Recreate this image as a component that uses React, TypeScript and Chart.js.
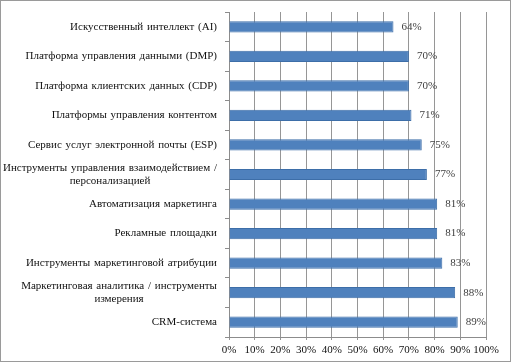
import React, { useEffect, useRef } from "react";
import { Chart, registerables } from "chart.js";

Chart.register(...registerables);

const categories: string[][] = [
  ["Искусственный интеллект (AI)"],
  ["Платформа управления данными (DMP)"],
  ["Платформа клиентских данных (CDP)"],
  ["Платформы управления контентом"],
  ["Сервис услуг электронной почты (ESP)"],
  ["Инструменты управления взаимодействием /", "персонализацией"],
  ["Автоматизация маркетинга"],
  ["Рекламные площадки"],
  ["Инструменты маркетинговой атрибуции"],
  ["Маркетинговая аналитика / инструменты", "измерения"],
  ["CRM-система"],
];

const values: number[] = [64, 70, 70, 71, 75, 77, 81, 81, 83, 88, 89];

const xTicks: number[] = [0, 10, 20, 30, 40, 50, 60, 70, 80, 90, 100];

const FONT = '"Liberation Serif", "Times New Roman", serif';

const overlayPlugin = {
  id: "overlay",
  afterDraw(chart: any) {
    const ctx = chart.ctx as CanvasRenderingContext2D;
    const yScale = chart.scales.y;
    ctx.save();
    ctx.font = `11px ${FONT}`;
    (ctx as any).wordSpacing = "1px";
    ctx.fillStyle = "#111111";
    ctx.textBaseline = "middle";
    ctx.textAlign = "center";
    const lineH = 13;
    categories.forEach((lines, i) => {
      const cy = yScale.getPixelForValue(i);
      const widths = lines.map((l) => ctx.measureText(l).width);
      const maxW = Math.max(...widths);
      const cx = yScale.right - 12 - maxW / 2;
      lines.forEach((l, j) => {
        ctx.fillText(l, cx, cy + (j - (lines.length - 1) / 2) * lineH);
      });
    });
    (ctx as any).wordSpacing = "0px";
    const meta = chart.getDatasetMeta(0);
    ctx.textAlign = "left";
    ctx.fillStyle = "#404040";
    meta.data.forEach((bar: any, i: number) => {
      ctx.fillText(values[i] + "%", bar.x + 8, bar.y);
    });
    ctx.strokeStyle = "#9a9a9a";
    ctx.lineWidth = 1;
    ctx.strokeRect(0.5, 0.5, 510, 361);
    ctx.restore();
  },
};

export default function App() {
  const ref = useRef<HTMLCanvasElement | null>(null);
  useEffect(() => {
    if (!ref.current) return;
    const chart = new Chart(ref.current, {
      type: "bar",
      data: {
        labels: categories.map((c) => c.join(" ")),
        datasets: [
          {
            data: values,
            backgroundColor: "#4F81BD",
            borderColor: "#3D6EA8",
            borderWidth: 1,
            barPercentage: 0.38,
            categoryPercentage: 1,
          },
        ],
      },
      options: {
        indexAxis: "y",
        responsive: false,
        animation: false,
        layout: { padding: { top: 12, right: 26, left: 0, bottom: 0 } },
        plugins: {
          legend: { display: false },
          tooltip: { enabled: false },
        },
        scales: {
          x: {
            min: 0,
            max: 100,
            afterBuildTicks: (scale: any) => {
              scale.ticks = xTicks.map((v) => ({ value: v }));
            },
            afterFit: (scale: any) => {
              scale.height = 27;
            },
            ticks: {
              callback: (v: any) => v + "%",
              font: { family: FONT, size: 11 },
              color: "#111111",
              padding: 4,
              maxRotation: 0,
              autoSkip: false,
            },
            grid: {
              color: "#969696",
              tickLength: 3,
              drawTicks: true,
            },
            border: { color: "#8c8c8c" },
          },
          y: {
            afterFit: (scale: any) => {
              scale.width = 229;
            },
            ticks: { display: false },
            grid: {
              drawOnChartArea: false,
              drawTicks: true,
              tickLength: 4,
              color: "#8c8c8c",
              offset: true,
            },
            border: { color: "#8c8c8c" },
          },
        },
      },
      plugins: [overlayPlugin],
    } as any);
    return () => chart.destroy();
  }, []);
  return (
    <div style={{ position: "absolute", left: 0, top: 0, width: 512, height: 364, background: "#fff" }}>
      <canvas ref={ref} width={512} height={364} />
    </div>
  );
}
